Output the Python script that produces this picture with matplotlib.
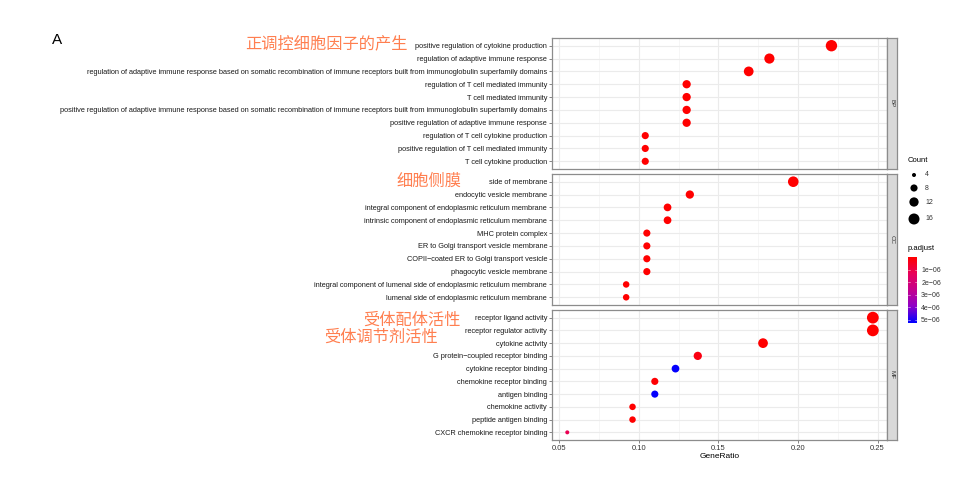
import numpy as np
import matplotlib
matplotlib.use('Agg')
import matplotlib.pyplot as plt
from matplotlib.colors import LinearSegmentedColormap, Normalize
from matplotlib import font_manager

# --- data ---
bp_terms = ['positive regulation of cytokine production',
            'regulation of adaptive immune response',
            'regulation of adaptive immune response based on somatic recombination of immune receptors built from immunoglobulin superfamily domains',
            'regulation of T cell mediated immunity',
            'T cell mediated immunity',
            'positive regulation of adaptive immune response based on somatic recombination of immune receptors built from immunoglobulin superfamily domains',
            'positive regulation of adaptive immune response',
            'regulation of T cell cytokine production',
            'positive regulation of T cell mediated immunity',
            'T cell cytokine production']
bp_ratio = [0.221, 0.182, 0.169, 0.130, 0.130, 0.130, 0.130, 0.104, 0.104, 0.104]
bp_count = [17, 14, 13, 10, 10, 10, 10, 8, 8, 8]
bp_padj = [1e-10, 1e-10, 1e-10, 2e-10, 2e-10, 2e-10, 2e-10, 5e-10, 5e-10, 5e-10]

cc_terms = ['side of membrane',
            'endocytic vesicle membrane',
            'integral component of endoplasmic reticulum membrane',
            'intrinsic component of endoplasmic reticulum membrane',
            'MHC protein complex',
            'ER to Golgi transport vesicle membrane',
            'COPII\u2212coated ER to Golgi transport vesicle',
            'phagocytic vesicle membrane',
            'integral component of lumenal side of endoplasmic reticulum membrane',
            'lumenal side of endoplasmic reticulum membrane']
cc_ratio = [0.197, 0.132, 0.118, 0.118, 0.105, 0.105, 0.105, 0.105, 0.092, 0.092]
cc_count = [15, 10, 9, 9, 8, 8, 8, 8, 7, 7]
cc_padj = [1e-10, 2e-10, 3e-10, 3e-10, 4e-10, 4e-10, 4e-10, 4e-10, 6e-10, 6e-10]

mf_terms = ['receptor ligand activity',
            'receptor regulator activity',
            'cytokine activity',
            'G protein\u2212coupled receptor binding',
            'cytokine receptor binding',
            'chemokine receptor binding',
            'antigen binding',
            'chemokine activity',
            'peptide antigen binding',
            'CXCR chemokine receptor binding']
mf_ratio = [0.247, 0.247, 0.178, 0.137, 0.123, 0.110, 0.110, 0.096, 0.096, 0.055]
mf_count = [18, 18, 13, 10, 9, 8, 8, 7, 7, 4]
mf_padj = [1e-10, 1e-10, 1e-09, 2.5e-07, 5.2e-06, 5e-08, 5.2e-06, 2e-08, 2e-08, 1.2e-06]

panels = [('BP', bp_terms, bp_ratio, bp_count, bp_padj),
          ('CC', cc_terms, cc_ratio, cc_count, cc_padj),
          ('MF', mf_terms, mf_ratio, mf_count, mf_padj)]

x_ticks = [0.05, 0.10, 0.15, 0.20, 0.25]
x_ticklabels = ['0.05', '0.10', '0.15', '0.20', '0.25']
legend_counts = [4, 8, 12, 16]
legend_padj = [1e-06, 2e-06, 3e-06, 4e-06, 5e-06]
legend_padj_labels = ['1e\u221206', '2e\u221206', '3e\u221206', '4e\u221206', '5e\u221206']

notes = ['正调控细胞因子的产生', '细胞侧膜', '受体配体活性', '受体调节剂活性']

# --- styling ---
names = {f.name for f in font_manager.fontManager.ttflist}
lab_font = ['Liberation Sans', 'DejaVu Sans']
lab_font = [f for f in lab_font if f in names] or ['DejaVu Sans']
cjk_font = ['Noto Sans CJK SC', 'DejaVu Sans']

cmap = LinearSegmentedColormap.from_list('rb', ['#FF0000', '#E8005A', '#C4008E', '#8E00C8', '#0000FF'])
norm = Normalize(vmin=0, vmax=5.25e-06)

def size_of(c):
    return 4.53 * np.asarray(c, dtype=float) - 9.8

W, H = 970, 483
fig = plt.figure(figsize=(W / 100, H / 100), dpi=100)

def box(x0, y0, x1, y1):
    # pixel box -> figure fraction
    return [x0 / W, 1 - y1 / H, (x1 - x0) / W, (y1 - y0) / H]

panel_px = [(38, 169), (174, 305), (310, 440)]
border = '#8c8c8c'
grid = '#ebebeb'

axes = []
for (name, terms, ratio, count, padj), (top, bot) in zip(panels, panel_px):
    ax = fig.add_axes(box(552, top, 887, bot))
    n = len(terms)
    ypos = np.arange(n, 0, -1)
    ax.scatter(ratio, ypos, s=size_of(count), c=padj, cmap=cmap, norm=norm,
               linewidths=0, zorder=3)
    ax.set_xlim(0.0454, 0.2559)
    ax.set_ylim(0.4, n + 0.6)
    ax.set_yticks(ypos)
    ax.set_yticklabels(terms, fontsize=5.3, family=lab_font, color='#1a1a1a')
    ax.set_xticks(x_ticks)
    ax.set_xticks([0.075, 0.125, 0.175, 0.225], minor=True)
    ax.grid(True, which='major', color=grid, lw=0.8, zorder=0)
    ax.grid(True, which='minor', axis='x', color='#f3f3f3', lw=0.5, zorder=0)
    ax.set_axisbelow(True)
    ax.tick_params(axis='both', which='major', length=2, width=0.5, color='#555555', pad=1.5)
    ax.tick_params(axis='x', which='minor', length=0)
    for sp in ax.spines.values():
        sp.set_color(border)
        sp.set_linewidth(0.9)
    if name != 'MF':
        ax.set_xticklabels([])
        ax.tick_params(axis='x', length=0)
    else:
        ax.set_xticklabels(x_ticklabels, fontsize=5.5, family=lab_font, color='#333333')
        ax.set_xlabel('GeneRatio', fontsize=6, family=lab_font, labelpad=1)
    # facet strip
    sx = fig.add_axes(box(887, top, 897, bot))
    sx.set_facecolor('#d9d9d9')
    sx.set_xticks([])
    sx.set_yticks([])
    for sp in sx.spines.values():
        sp.set_color(border)
        sp.set_linewidth(0.9)
    sx.text(0.5, 0.5, name, rotation=-90, ha='center', va='center',
            fontsize=4.5, family=lab_font, color='#333333', transform=sx.transAxes)
    axes.append(ax)

# --- Count legend ---
fig.text(908 / W, 1 - 160 / H, 'Count', fontsize=5.5, family=lab_font, va='center')
lax = fig.add_axes(box(905, 166, 950, 228))
lax.set_xlim(0, 1)
lax.set_ylim(228, 166)
lax.axis('off')
leg_y = [175, 188, 202, 219]
lax.scatter([0.2] * len(legend_counts), leg_y, s=size_of(legend_counts), c='black', linewidths=0)
for c, yy in zip(legend_counts, leg_y):
    lax.text(0.45, yy, str(c), fontsize=5, family=lab_font, va='center', color='#333333')

# --- p.adjust colorbar ---
fig.text(908 / W, 1 - 248 / H, 'p.adjust', fontsize=5.5, family=lab_font, va='center')
cax = fig.add_axes(box(908, 257, 917, 323))
grad = np.linspace(0, 5.25e-06, 200).reshape(-1, 1)
cax.imshow(grad, aspect='auto', cmap=cmap, norm=norm, origin='upper',
           extent=[0, 1, 5.25e-06, 0], interpolation='bilinear')
cax.set_ylim(5.25e-06, 0)
cax.set_xticks([])
cax.yaxis.tick_right()
cax.set_yticks(legend_padj)
cax.set_yticklabels(legend_padj_labels, fontsize=5, family=lab_font, color='#333333')
cax.tick_params(axis='y', length=0, pad=3)
for v in legend_padj:
    cax.plot([0, 0.2], [v, v], color='white', lw=0.4, alpha=0.8)
    cax.plot([0.8, 1], [v, v], color='white', lw=0.4, alpha=0.8)
for sp in cax.spines.values():
    sp.set_visible(False)

# --- panel letters ---
fig.text(52 / W, 1 - 40 / H, 'A', fontsize=11, family=['Liberation Sans', 'DejaVu Sans'], va='center')
fig.text(50 / W, 1 - 492 / H, 'B', fontsize=11, family=['Liberation Sans', 'DejaVu Sans'], va='center')

# --- Chinese notes ---
note_pos = [(245, 44), (397, 181), (363, 320), (324, 337)]
for t, (px, py) in zip(notes, note_pos):
    fig.text(px / W, 1 - py / H, t, fontsize=11.7, family=cjk_font, color='#FF7F50',
             ha='left', va='center')

fig.savefig('out.png', dpi=100)
